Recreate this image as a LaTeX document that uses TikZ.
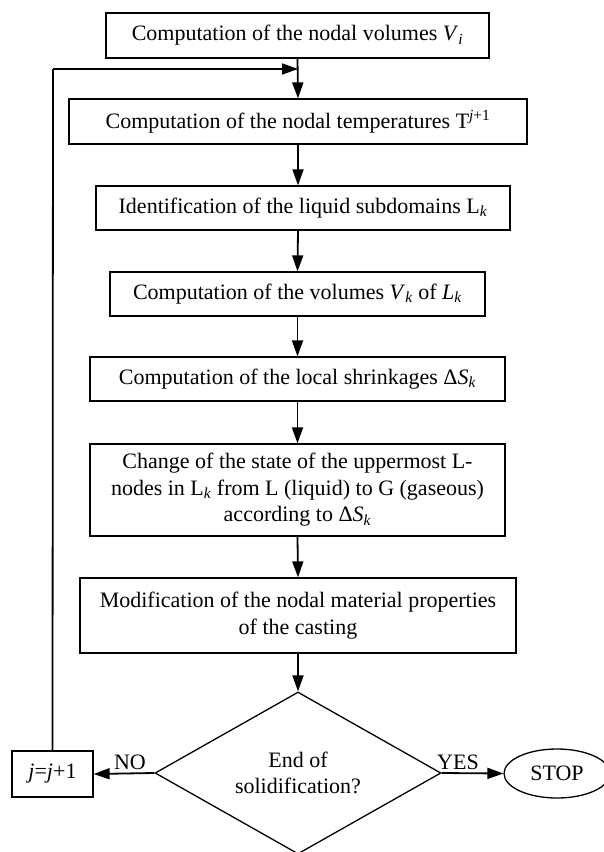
\documentclass[tikz,border=0pt]{standalone}
\usepackage{fontspec}
\setmainfont{Liberation Serif}
\usetikzlibrary{shapes.geometric,arrows.meta}
\newcommand{\sub}[1]{\textsubscript{\textit{#1}}}
\begin{document}
\begin{tikzpicture}[x=1pt,y=-1pt,
  every node/.style={font=\fontsize{22}{26.5}\selectfont},
  box/.style={draw,line width=1.3pt,inner sep=0pt,align=center},
  arr/.style={line width=1.8pt,-{Triangle[length=16pt,width=11pt]}},
  lbl/.style={inner sep=0pt}]
\useasboundingbox (0,0) rectangle (603,852);
\node[box,minimum width=383pt,minimum height=45pt] (b1) at (297.5,35.5) {Computation of the nodal volumes \textit{V}\sub{i}};
\node[box,minimum width=458pt,minimum height=45pt] (b2) at (298,121.5) {Computation of the nodal temperatures T\textsuperscript{\textit{j}+1}};
\node[box,minimum width=414pt,minimum height=44pt] (b3) at (303,208) {Identification of the liquid subdomains L\sub{k}};
\node[box,minimum width=375pt,minimum height=44pt] (b4) at (297.5,294) {Computation of the volumes \textit{V}\sub{k} of \textit{L}\sub{k}};
\node[box,minimum width=415pt,minimum height=44pt] (b5) at (297.5,379) {Computation of the local shrinkages Δ\textit{S}\sub{k}};
\node[box,minimum width=415pt,minimum height=92pt] (b6) at (297.5,490) {Change of the state of the uppermost L-\\nodes in L\sub{k} from L (liquid) to G (gaseous)\\according to Δ\textit{S}\sub{k}};
\node[box,minimum width=436pt,minimum height=75pt] (b7) at (298,615.5) {Modification of the nodal material properties\\of the casting};
\node[box,diamond,aspect=1.765,minimum width=286pt,minimum height=162pt] (d) at (298,773) {End of\\solidification?};
\node[box,minimum width=81pt,minimum height=46pt] (j) at (52.5,774) {\textit{j}=\textit{j}+1};
\node[box,ellipse,minimum width=106pt,minimum height=49pt] (stop) at (557,773.5) {STOP};
\coordinate (lt) at (53,69);
\coordinate (lm) at (298,69);
\draw[arr] (b1.south) -- (b2.north);
\draw[line width=1.8pt] (j.north) -- (lt);
\draw[arr] (lt) -- (lm);
\draw[arr] (b2.south) -- (b2.south |- b3.north);
\draw[arr] (b3.south -| b2.south) -- (b4.north);
\draw[arr] (b4.south) -- (b5.north);
\draw[arr] (b5.south) -- (b6.north);
\draw[arr] (b6.south) -- (b7.north);
\draw[arr] (b7.south) -- (d.north);
\draw[arr] (d.west) -- (j.east);
\draw[arr] (d.east) -- (stop.west);
\node[lbl] (no) at (130,762) {NO};
\node[lbl] (yes) at (458,762) {YES};
\end{tikzpicture}
\end{document}
